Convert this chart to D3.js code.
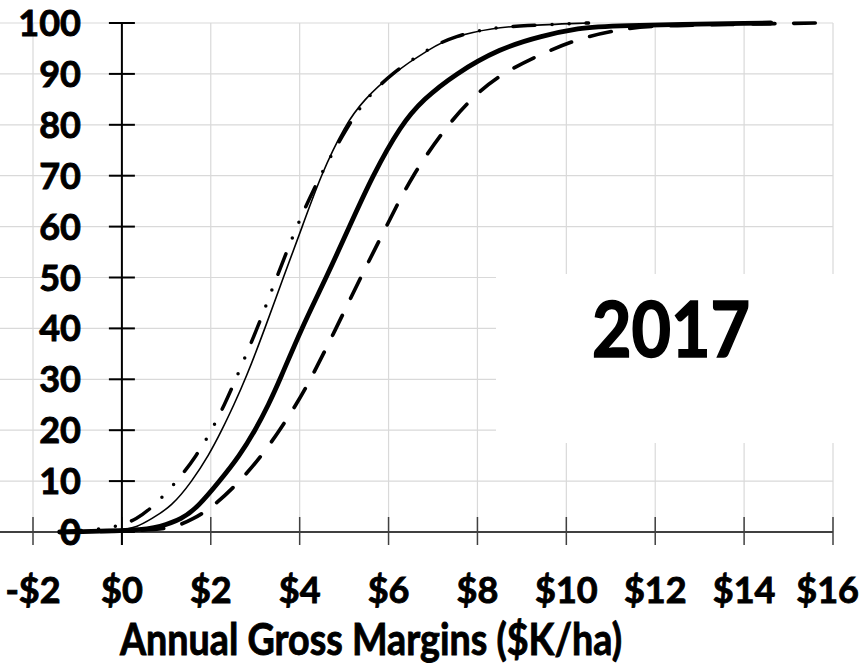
<!DOCTYPE html>
<html>
<head>
<meta charset="utf-8">
<script src="https://cdn.jsdelivr.net/npm/d3@7"></script>
<style>
    body { margin: 0; background: #fff; }
    svg text { font-family: Lato, "Open Sans", sans-serif; font-weight: bold; fill: #000; stroke: #000; stroke-width: 0.9px; }
</style>
</head>
<body>
<svg id="chart" width="867" height="666"></svg>
<script>
//  cumulative percent levels, shared by all four series
const pctLevels = [0, 0.3, 1, 2.5, 5, 10, 15, 20, 25, 30, 40, 50, 60, 70, 80, 85, 90, 95, 97.5, 99, 99.5, 100];

//  gross margin ($K/ha) reached at each level
const thinSolid = [-1.3, 0.0, 0.35, 0.65, 1.12, 1.58, 1.95, 2.25, 2.52, 2.78, 3.22, 3.63, 4.06, 4.47, 5.02, 5.45, 6.07, 6.93, 7.5, 8.35, 9.0, 10.5];
const dashDotDot = [-1.4, -0.8, -0.1, 0.33, 0.71, 1.25, 1.68, 2.02, 2.31, 2.56, 3.05, 3.48, 3.93, 4.45, 5.1, 5.48, 6.05, 6.9, 7.5, 8.3, 9.0, 10.5];
const thickSolid = [-1.4, 0.4, 0.85, 1.35, 1.72, 2.2, 2.65, 3.0, 3.3, 3.56, 4.04, 4.6, 5.12, 5.64, 6.28, 6.78, 7.5, 8.5, 9.45, 10.3, 10.9, 14.6];
const longDash = [-1.4, 0.7, 1.2, 1.6, 2.06, 2.66, 3.15, 3.55, 3.92, 4.25, 4.82, 5.37, 5.95, 6.52, 7.33, 7.85, 8.5, 9.7, 10.5, 11.4, 12.0, 15.6];

const marginTicks = [-2, 0, 2, 4, 6, 8, 10, 12, 14, 16];
const pctTicks = [0, 10, 20, 30, 40, 50, 60, 70, 80, 90, 100];

const xTitle = "Annual Gross Margins ($K/ha)";
const yearLabel = "2017";

const W = 867, H = 666;
const svg = d3.select("#chart");

const x = d3.scaleLinear().domain([-2, 16]).range([33, 833]);
const y = d3.scaleLinear().domain([0, 100]).range([532, 23]);

//  gridlines
svg.append("g").selectAll("line").data(marginTicks).join("line")
    .attr("x1", d => x(d)).attr("x2", d => x(d))
    .attr("y1", y(100)).attr("y2", y(0))
    .attr("stroke", "#d9d9d9").attr("stroke-width", 1.2);
svg.append("g").selectAll("line").data(pctTicks.filter(d => d > 0)).join("line")
    .attr("x1", 0).attr("x2", x(16))
    .attr("y1", d => y(d)).attr("y2", d => y(d))
    .attr("stroke", "#d9d9d9").attr("stroke-width", 1.2);

//  white panel behind the year label
svg.append("rect").attr("x", 496).attr("y", 274)
    .attr("width", W - 496).attr("height", 169).attr("fill", "#fff");

//  x axis
svg.append("line").attr("x1", 0).attr("x2", x(16))
    .attr("y1", y(0)).attr("y2", y(0))
    .attr("stroke", "#000").attr("stroke-width", 1.5);
svg.append("g").selectAll("line").data(marginTicks).join("line")
    .attr("x1", d => x(d)).attr("x2", d => x(d))
    .attr("y1", y(0) - 15).attr("y2", y(0) + 13)
    .attr("stroke", "#404040").attr("stroke-width", 1.5);

//  y axis
svg.append("line").attr("x1", x(0)).attr("x2", x(0))
    .attr("y1", y(100)).attr("y2", y(0) + 13)
    .attr("stroke", "#000").attr("stroke-width", 2);
svg.append("g").selectAll("line").data(pctTicks).join("line")
    .attr("x1", x(0) - 13).attr("x2", x(0) + 13)
    .attr("y1", d => y(d)).attr("y2", d => y(d))
    .attr("stroke", "#000").attr("stroke-width", 2);

//  series
const line = d3.line().x(d => x(d[0])).y(d => y(d[1])).curve(d3.curveBasis);
const series = [
    { values: thinSolid, width: 1.6, dash: null },
    { values: dashDotDot, width: 3.5, dash: "22,17,0,17,0,17" },
    { values: thickSolid, width: 4.8, dash: null },
    { values: longDash, width: 3.7, dash: "22,19" },
];
series.forEach(s => {
    svg.append("path")
        .datum(s.values.map((v, i) => [v, pctLevels[i]]))
        .attr("d", line)
        .attr("fill", "none").attr("stroke", "#000")
        .attr("stroke-width", s.width)
        .attr("stroke-linecap", "round").attr("stroke-linejoin", "round")
        .attr("stroke-dasharray", s.dash);
});

//  tick labels
svg.append("g").selectAll("text").data(pctTicks).join("text")
    .attr("x", 81).attr("y", d => y(d) + 13)
    .attr("text-anchor", "end").style("font-size", "36px")
    .text(d => d);

const xLabels = svg.append("g").selectAll("text").data(marginTicks).join("text")
    .attr("x", d => x(d)).attr("y", 603)
    .attr("text-anchor", "middle").style("font-size", "36px")
    .text(d => (d < 0 ? "-$" : "$") + Math.abs(d));
//  keep the last label inside the frame, as the original does
xLabels.each(function () {
    const b = this.getBBox();
    if (b.x + b.width > W - 8) d3.select(this).attr("x", +d3.select(this).attr("x") - (b.x + b.width - (W - 8)));
});

//  axis title and year
svg.append("text").attr("x", 120).attr("y", 655)
    .style("font-size", "43px")
    .attr("textLength", 502).attr("lengthAdjust", "spacingAndGlyphs")
    .text(xTitle);

svg.append("text").attr("x", 592).attr("y", 357)
    .style("font-size", "76px").style("stroke-width", "1.6px")
    .attr("textLength", 158).attr("lengthAdjust", "spacingAndGlyphs")
    .text(yearLabel);
</script>
</body>
</html>
